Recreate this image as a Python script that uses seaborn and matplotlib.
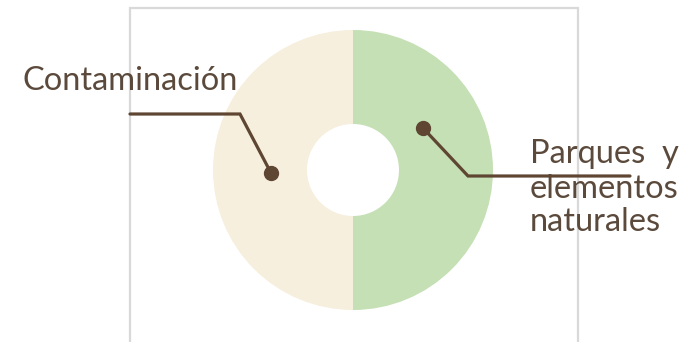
import matplotlib
matplotlib.use("Agg")
import matplotlib.pyplot as plt
import seaborn as sns

categories = ["Contaminación", "Parques y elementos naturales"]
values = [50, 50]
colors = ["#F6EFDD", "#C5E0B4"]

sns.set_style("white")
plt.rcParams["font.family"] = ["Lato", "DejaVu Sans"]

brown = "#5E4632"
txt = "#5B4A3C"

fig = plt.figure(figsize=(6.98, 3.42), dpi=100)
ax = fig.add_axes([0, 0, 1, 1])

# outer frame (chart area border)
ax.plot([129.5, 129.5, 577.5, 577.5], [345, 7.5, 7.5, 345], color="#D9D9D9", lw=1.6,
        solid_joinstyle="miter", zorder=0)

ax.pie(values, colors=colors, startangle=90, counterclock=True, center=(353, 170),
       radius=140, wedgeprops=dict(width=94, linewidth=0), frame=True)
ax.set_xlim(0, 698)
ax.set_ylim(342, 0)
ax.set_aspect("equal")
ax.axis("off")

# leader lines
ax.plot([130, 240, 271], [114, 114, 173], color=brown, lw=2.3, solid_joinstyle="miter", zorder=3)
ax.plot([271], [173], "o", color=brown, ms=10, zorder=4)
ax.plot([423, 468, 630], [128, 176, 176], color=brown, lw=2.3, solid_joinstyle="miter", zorder=3)
ax.plot([423], [128], "o", color=brown, ms=10, zorder=4)

fs = 23.5
kw = dict(fontsize=fs, color=txt, va="baseline")
ax.text(22, 90, categories[0], ha="left", **kw)
ax.text(530, 163, "Parques", ha="left", zorder=2, **kw)
ax.text(679, 163, "y", ha="right", zorder=2, **kw)
ax.text(530, 198, "elementos", ha="left", zorder=2, **kw)
ax.text(530, 231, "naturales", ha="left", zorder=2, **kw)

fig.savefig("out.png", dpi=100)
